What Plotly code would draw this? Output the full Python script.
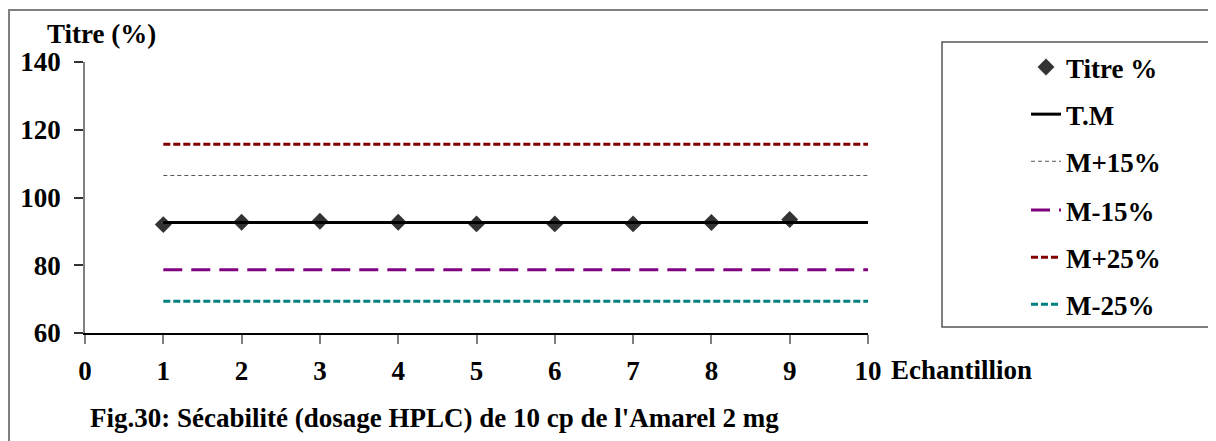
import plotly.graph_objects as go

# ---- data ----
samples = [1, 2, 3, 4, 5, 6, 7, 8, 9, 10]
titre_x = [1, 2, 3, 4, 5, 6, 7, 8, 9]
titre_pct = [92.0, 92.7, 93.0, 92.7, 92.2, 92.2, 92.2, 92.6, 93.5]
tm = [92.6, 92.6, 92.6, 92.6, 92.6, 92.6, 92.6, 92.6, 92.6, 92.6]
m_plus15 = [106.5, 106.5, 106.5, 106.5, 106.5, 106.5, 106.5, 106.5, 106.5, 106.5]
m_minus15 = [78.7, 78.7, 78.7, 78.7, 78.7, 78.7, 78.7, 78.7, 78.7, 78.7]
m_plus25 = [115.7, 115.7, 115.7, 115.7, 115.7, 115.7, 115.7, 115.7, 115.7, 115.7]
m_minus25 = [69.4, 69.4, 69.4, 69.4, 69.4, 69.4, 69.4, 69.4, 69.4, 69.4]
x_ticks = [0, 1, 2, 3, 4, 5, 6, 7, 8, 9, 10]
y_ticks = [60, 80, 100, 120, 140]

FONT = "Liberation Serif"
FS = 27

fig = go.Figure()

fig.add_trace(go.Scatter(
    x=titre_x, y=titre_pct, mode="markers", name="Titre %",
    legendgroup="g1", legend="legend",
    marker=dict(symbol="diamond", size=13, color="#333333"),
))
fig.add_trace(go.Scatter(
    x=samples, y=tm, mode="lines", name="T.M", legendgroup="g2",
    legend="legend",
    line=dict(color="#000000", width=3),
))
fig.add_trace(go.Scatter(
    x=samples, y=m_plus15, mode="lines", name="M+15%", legendgroup="g3",
    legend="legend",
    line=dict(color="#555555", width=1, dash="4px,3px"),
))
fig.add_trace(go.Scatter(
    x=samples, y=m_minus15, mode="lines", name="M-15%", legendgroup="g4",
    legend="legend2",
    line=dict(color="#800080", width=3, dash="19px,9px"),
))
fig.add_trace(go.Scatter(
    x=samples, y=m_plus25, mode="lines", name="M+25%", legendgroup="g5",
    legend="legend2",
    line=dict(color="#800000", width=3, dash="7px,3px"),
))
fig.add_trace(go.Scatter(
    x=samples, y=m_minus25, mode="lines", name="M-25%", legendgroup="g6",
    legend="legend2",
    line=dict(color="#008080", width=3, dash="7px,3px"),
))

OFF = 8  # page body margin
W, H = 1216, 441
# plot area in screen pixels: x 85..868, y 62..333
L = 85 - OFF
T = 62 - OFF
R = W - (868 - OFF)
B = H - (333 - OFF)
pw, ph = W - L - R, H - T - B


def px(x):
    return (x - OFF - L) / pw


def py(y):
    return (H - B - (y - OFF)) / ph


legend_font = dict(family=FONT, size=FS, color="black", weight="bold")
legend_common = dict(
    xanchor="left", yanchor="top",
    bgcolor="rgba(0,0,0,0)", borderwidth=0,
    font=legend_font, tracegroupgap=9, traceorder="grouped",
)

fig.update_layout(
    width=W, height=H,
    margin=dict(l=L, r=R, t=T, b=B, pad=0, autoexpand=False),
    paper_bgcolor="white", plot_bgcolor="white",
    font=dict(family=FONT, size=FS, color="black", weight="bold"),
    showlegend=True,
    legend=dict(x=px(1026), y=py(43), **legend_common),
    legend2=dict(x=px(1026), y=py(186), **legend_common),
    xaxis=dict(
        range=[0, 10], tickmode="array", tickvals=x_ticks,
        showgrid=False, zeroline=False, automargin=False,
        showline=True, linecolor="black", linewidth=1.5,
        ticks="outside", ticklen=9, tickcolor="#808080", tickwidth=1.5,
        tickfont=dict(family=FONT, size=FS, color="black", weight="bold"),
        ticklabelstandoff=4,
    ),
    yaxis=dict(
        range=[60, 140], tickmode="array", tickvals=y_ticks,
        showgrid=False, zeroline=False, automargin=False,
        showline=True, linecolor="#808080", linewidth=1.5,
        ticks="outside", ticklen=9, tickcolor="#333333", tickwidth=1.5,
        tickfont=dict(family=FONT, size=FS, color="black", weight="bold"),
        ticklabelstandoff=8,
    ),
    shapes=[
        dict(type="rect", xref="paper", yref="paper",
             x0=px(9), x1=px(1240), y0=py(470), y1=py(10),
             line=dict(color="#808080", width=2), layer="below"),
        dict(type="rect", xref="paper", yref="paper",
             x0=px(942), x1=px(1210), y0=py(327), y1=py(42),
             line=dict(color="#555555", width=1.5), fillcolor="white",
             layer="below"),
    ],
    annotations=[
        dict(text="Titre (%)", xref="paper", yref="paper",
             x=px(45), y=py(34), xanchor="left", yanchor="middle",
             showarrow=False,
             font=dict(family=FONT, size=FS, color="black", weight="bold")),
        dict(text="Echantillion", xref="paper", yref="paper",
             x=px(889), y=py(370), xanchor="left", yanchor="middle",
             showarrow=False,
             font=dict(family=FONT, size=FS, color="black", weight="bold")),
        dict(text="Fig.30: Sécabilité (dosage HPLC) de 10 cp de l'Amarel 2 mg",
             xref="paper", yref="paper",
             x=px(88), y=py(418), xanchor="left", yanchor="middle",
             showarrow=False,
             font=dict(family=FONT, size=FS, color="black", weight="bold")),
    ],
)

fig.write_html("out.html")
